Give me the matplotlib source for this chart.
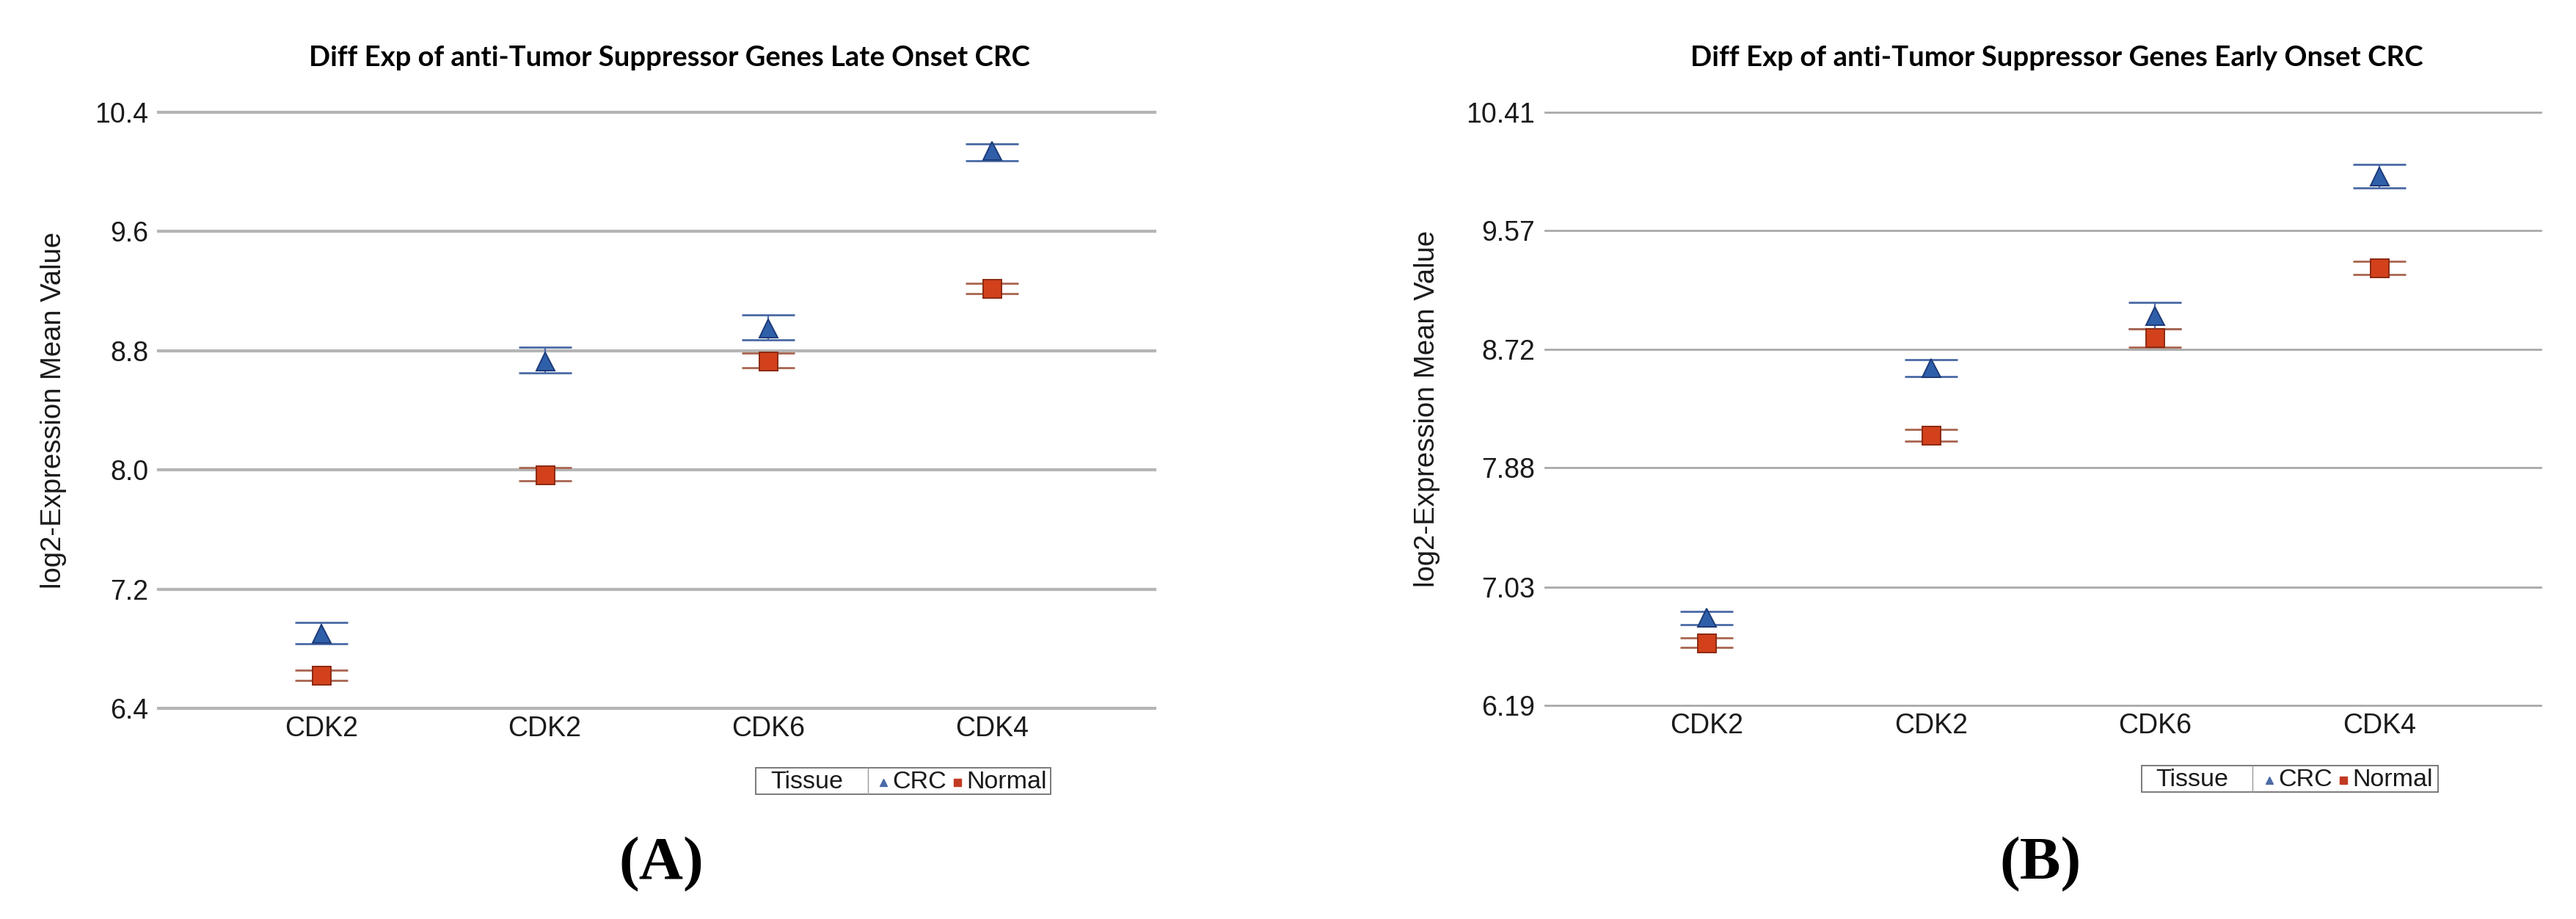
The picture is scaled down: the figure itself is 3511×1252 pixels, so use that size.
import matplotlib
matplotlib.use("Agg")
import matplotlib.pyplot as plt
from matplotlib.patches import Rectangle
from matplotlib.lines import Line2D

# ---------------- data ----------------
categories = ["CDK2", "CDK2", "CDK6", "CDK4"]

late_crc_mean = [6.90, 8.73, 8.95, 10.14]
late_crc_low = [6.835, 8.648, 8.872, 10.072]
late_crc_high = [6.975, 8.825, 9.04, 10.187]
late_normal_mean = [6.624, 7.968, 8.731, 9.218]
late_normal_low = [6.586, 7.928, 8.685, 9.183]
late_normal_high = [6.658, 8.013, 8.782, 9.253]
late_yticks = [6.4, 7.2, 8.0, 8.8, 9.6, 10.4]
late_yticklabels = ["6.4", "7.2", "8.0", "8.8", "9.6", "10.4"]

early_crc_mean = [6.814, 8.59, 8.964, 9.955]
early_crc_low = [6.764, 8.531, 8.868, 9.87]
early_crc_high = [6.856, 8.648, 9.056, 10.038]
early_normal_mean = [6.634, 8.11, 8.806, 9.30]
early_normal_low = [6.60, 8.068, 8.739, 9.254]
early_normal_high = [6.668, 8.152, 8.868, 9.349]
early_yticks = [6.19, 7.03, 7.88, 8.72, 9.57, 10.41]
early_yticklabels = ["6.19", "7.03", "7.88", "8.72", "9.57", "10.41"]

titles = ["Diff Exp of anti-Tumor Suppressor Genes Late Onset CRC",
          "Diff Exp of anti-Tumor Suppressor Genes Early Onset CRC"]
panel_labels = ["(A)", "(B)"]
ylabel = "log2-Expression Mean Value"
legend_title = "Tissue"
series_names = ["CRC", "Normal"]

# ---------------- style ----------------
W, H = 3512, 1252
DPI = 100
SANS = ["Liberation Sans", "DejaVu Sans"]
CRC_FILL, CRC_EDGE, CRC_BAR = "#2f5fa9", "#1d3a78", "#4b6aa6"
NOR_FILL, NOR_EDGE, NOR_BAR = "#d2411b", "#8c2a12", "#a9654f"

fig = plt.figure(figsize=(W / DPI, H / DPI), dpi=DPI)
fig.patch.set_facecolor("white")


def fx(px):
    return px / W


def fy(py):
    return 1 - py / H


def panel(rect, means, lows, highs, nmeans, nlows, nhighs, yticks, yticklabels,
          grid_lw, grid_col, xlim, ylabel_x):
    ax = fig.add_axes(rect)
    x = list(range(len(categories)))
    for m, lo, hi, fill, edge, bar, mk in [
        (means, lows, highs, CRC_FILL, CRC_EDGE, CRC_BAR, "^"),
        (nmeans, nlows, nhighs, NOR_FILL, NOR_EDGE, NOR_BAR, "s"),
    ]:
        err = [[a - b for a, b in zip(m, lo)], [b - a for a, b in zip(m, hi)]]
        ax.errorbar(x, m, yerr=err, fmt="none", ecolor=bar, elinewidth=1.6,
                    capsize=26, capthick=2.0, zorder=3)
        ax.plot(x, m, linestyle="none", marker=mk, ms=18, mfc=fill, mec=edge,
                mew=1.4, zorder=4)
    ax.set_xlim(*xlim)
    ax.set_ylim(yticks[0], yticks[-1])
    ax.set_yticks(yticks)
    ax.set_yticklabels(yticklabels, fontsize=27, family=SANS, color="#1a1a1a")
    ax.set_xticks(x)
    ax.set_xticklabels(categories, fontsize=27, family=SANS, color="#1a1a1a")
    ax.tick_params(axis="both", length=0)
    ax.tick_params(axis="y", pad=10)
    ax.tick_params(axis="x", pad=7)
    for s in ax.spines.values():
        s.set_visible(False)
    ax.grid(axis="y", color=grid_col, linewidth=grid_lw)
    ax.grid(axis="x", visible=False)
    ax.set_axisbelow(True)
    for gl in ax.get_ygridlines():
        gl.set_clip_on(False)
    ax.set_ylabel(ylabel, fontsize=27.5, family=SANS, color="#1a1a1a")
    ax.yaxis.label.set_verticalalignment("center")
    ax.yaxis.set_label_coords(ylabel_x, 0.5)
    return ax


# Panel A
axA = panel([fx(216), fy(965), fx(1574) - fx(216), fy(152.7) - fy(965)],
            late_crc_mean, late_crc_low, late_crc_high,
            late_normal_mean, late_normal_low, late_normal_high,
            late_yticks, late_yticklabels, 3.0, "#b5b5b5", (-0.728, 3.728), -0.105)
# Panel B
axB = panel([fx(2106), fy(961), fx(3463) - fx(2106), fy(152.7) - fy(961)],
            early_crc_mean, early_crc_low, early_crc_high,
            early_normal_mean, early_normal_low, early_normal_high,
            early_yticks, early_yticklabels, 2.0, "#a9a9a9", (-0.72, 3.72), -0.119)

# Titles (fit to measured width)
renderer = fig.canvas.get_renderer()
for cx, target, t in [(912, 984, titles[0]), (2803, 998, titles[1])]:
    txt = fig.text(fx(cx), fy(90), t, ha="center", va="baseline",
                   fontsize=28, fontweight="bold", family=["Lato", "DejaVu Sans"])
    w = txt.get_window_extent(renderer=renderer).width
    txt.set_fontsize(28 * target / w)

# Panel labels
for cx, lab in [(901, panel_labels[0]), (2781, panel_labels[1])]:
    fig.text(fx(cx), fy(1197), lab, ha="center", va="baseline", fontsize=60,
             fontweight="bold", family=["Liberation Serif", "DejaVu Serif"])


# Legends
def legend(x0, y0, x1, y1, xdiv, x_tissue, x_tri, x_crc, x_sq, x_norm, base):
    fig.add_artist(Rectangle((fx(x0), fy(y1)), fx(x1) - fx(x0), fy(y0) - fy(y1),
                             transform=fig.transFigure, fill=True, fc="white",
                             ec="#7a7a7a", lw=1.4))
    fig.add_artist(Line2D([fx(xdiv), fx(xdiv)], [fy(y1), fy(y0)],
                          transform=fig.transFigure, color="#9a9a9a", lw=1.0))
    ym = (y0 + y1) / 2 + 2
    fig.text(fx(x_tissue), fy(base), legend_title, ha="left", va="baseline",
             fontsize=24.5, family=SANS, color="#1a1a1a")
    fig.add_artist(Line2D([fx(x_tri)], [fy(ym)], transform=fig.transFigure,
                          marker="^", ms=7, mfc=CRC_BAR, mec=CRC_BAR, ls="none"))
    fig.text(fx(x_crc), fy(base), series_names[0], ha="left", va="baseline",
             fontsize=24.5, family=SANS, color="#1a1a1a")
    fig.add_artist(Line2D([fx(x_sq)], [fy(ym)], transform=fig.transFigure,
                          marker="s", ms=7, mfc="#c23a22", mec="#c23a22", ls="none"))
    fig.text(fx(x_norm), fy(base), series_names[1], ha="left", va="baseline",
             fontsize=24.5, family=SANS, color="#1a1a1a")


legend(1030, 1046, 1432, 1082, 1183, 1050, 1204, 1216, 1305, 1317, 1074)
legend(2919, 1043, 3323, 1079, 3070, 2938, 3093, 3105, 3194, 3206, 1071)

fig.savefig("out.png", dpi=DPI, facecolor="white")
